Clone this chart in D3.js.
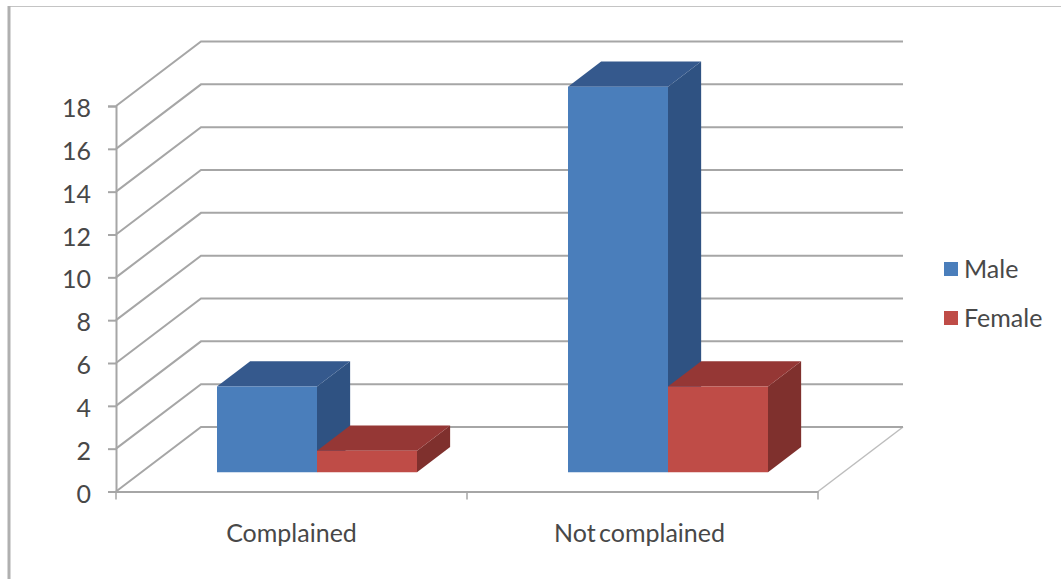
<!DOCTYPE html>
<html>
<head>
<meta charset="utf-8">
<script src="https://cdn.jsdelivr.net/npm/d3@7/dist/d3.min.js"></script>
<style>
html, body { margin: 0; padding: 0; background: #fff; }
svg { display: block; }
text { font-family: Lato, "Open Sans", sans-serif; fill: #484848; }
</style>
</head>
<body>
<svg id="chart" width="1061" height="579"></svg>
<script>
// Survey counts per response group
const categories = ["Complained", "Not complained"];
const seriesNames = ["Male", "Female"];
const maleValues = [4, 18];
const femaleValues = [1, 4];
const tickValues = [0, 2, 4, 6, 8, 10, 12, 14, 16, 18];
const seriesFront = ["#4a7ebb", "#bf4c47"];
const seriesTop = ["#35598d", "#953735"];
const seriesSide = ["#2f5282", "#7f302d"];
const labelSize = 25;

const svg = d3.select("#chart");

// Outer chart frame: top and left edges only
svg.append("line").attr("x1", 9).attr("x2", 1061).attr("y1", 6.5).attr("y2", 6.5)
  .attr("stroke", "#c4c4c4").attr("stroke-width", 1.2);
svg.append("line").attr("x1", 9).attr("x2", 9).attr("y1", 6).attr("y2", 579)
  .attr("stroke", "#b0b0b0").attr("stroke-width", 3);

// Front-plane scales plus a depth scale for the oblique projection
const y = d3.scaleLinear().domain([0, 18]).range([491.5, 106]);
const x = d3.scaleBand().domain(categories).range([116, 818]);
const series = d3.scaleBand().domain(seriesNames).range([0, 200]);
const depthX = d3.scaleLinear().domain([0, 1]).range([0, 85]);
const depthY = d3.scaleLinear().domain([0, 1]).range([0, -64.5]);
const barDepthNear = 0.3;
const barDepthFar = 0.69;

const pt = (px, py, d) => [px + depthX(d), py + depthY(d)];
const pathOf = pts => d3.line()(pts) + "Z";

// Floor of the chart
const gridColor = "#a6a6a6";
const [x0, x1] = x.range();
svg.append("path")
  .attr("d", d3.line()([pt(x1, y(0), 0), pt(x1, y(0), 1)]))
  .attr("fill", "none").attr("stroke", "#bdbdbd").attr("stroke-width", 1.5);

// Gridlines: along the side wall, then across the back wall
const grid = svg.append("g").attr("fill", "none").attr("stroke", gridColor).attr("stroke-width", 2);
grid.selectAll("path").data(tickValues).join("path")
  .attr("d", v => d3.line()([pt(x0, y(v), 0), pt(x0, y(v), 1), pt(x1, y(v), 1)]));

// Value axis
const yAxis = svg.append("g").attr("transform", `translate(${x0},0)`)
  .call(d3.axisLeft(y).tickValues(tickValues).tickSize(8).tickPadding(17));
yAxis.selectAll("path, line").attr("stroke", gridColor).attr("stroke-width", 2);
yAxis.selectAll("text").attr("font-size", labelSize).style("font-family", "Lato")
  .attr("fill", "#484848").attr("dy", "0.42em");

// Category axis with ticks between the groups; the two-word label sets tighter
const xAxis = svg.append("g").attr("transform", `translate(0,${y(0)})`)
  .call(d3.axisBottom(x).tickSize(0).tickPadding(33));
xAxis.select("path").attr("stroke", gridColor).attr("stroke-width", 2);
xAxis.selectAll("text").attr("font-size", labelSize).style("font-family", "Lato").attr("fill", "#484848")
  .attr("dx", (d, i) => i === 1 ? -3 : 0)
  .style("word-spacing", "-3px");
xAxis.selectAll(".boundary").data([x0, x0 + x.bandwidth(), x1]).join("line")
  .attr("class", "boundary")
  .attr("x1", d => d).attr("x2", d => d).attr("y1", 0).attr("y2", 8)
  .attr("stroke", gridColor).attr("stroke-width", 1.5);

// Bars as three visible faces; drawn group by group so nearer faces overlap
const rows = [];
categories.forEach((c, i) => {
  rows.push({ c, s: 0, v: maleValues[i] });
  rows.push({ c, s: 1, v: femaleValues[i] });
});
const bars = svg.append("g").selectAll("g").data(rows).join("g");
const xLeft = d => x(d.c) + x.bandwidth() / 2 - series.bandwidth() + series.bandwidth() * d.s;
const xRight = d => xLeft(d) + series.bandwidth();

bars.append("path").attr("fill", d => seriesSide[d.s]).attr("d", d => pathOf([
  pt(xRight(d), y(0), barDepthNear), pt(xRight(d), y(0), barDepthFar),
  pt(xRight(d), y(d.v), barDepthFar), pt(xRight(d), y(d.v), barDepthNear)]));
bars.append("path").attr("fill", d => seriesTop[d.s]).attr("d", d => pathOf([
  pt(xLeft(d), y(d.v), barDepthNear), pt(xRight(d), y(d.v), barDepthNear),
  pt(xRight(d), y(d.v), barDepthFar), pt(xLeft(d), y(d.v), barDepthFar)]));
bars.append("path").attr("fill", d => seriesFront[d.s]).attr("d", d => pathOf([
  pt(xLeft(d), y(0), barDepthNear), pt(xRight(d), y(0), barDepthNear),
  pt(xRight(d), y(d.v), barDepthNear), pt(xLeft(d), y(d.v), barDepthNear)]));

// Legend
const legendY = d3.scalePoint().domain(seriesNames).range([269, 318]);
const legend = svg.append("g").selectAll("g").data(seriesNames).join("g")
  .attr("transform", d => `translate(944,${legendY(d)})`);
legend.append("rect").attr("x", 0).attr("y", -7).attr("width", 14).attr("height", 14)
  .attr("fill", (d, i) => seriesFront[i]);
legend.append("text").attr("x", 20).attr("y", 9).attr("font-size", labelSize).text(d => d);
</script>
</body>
</html>
